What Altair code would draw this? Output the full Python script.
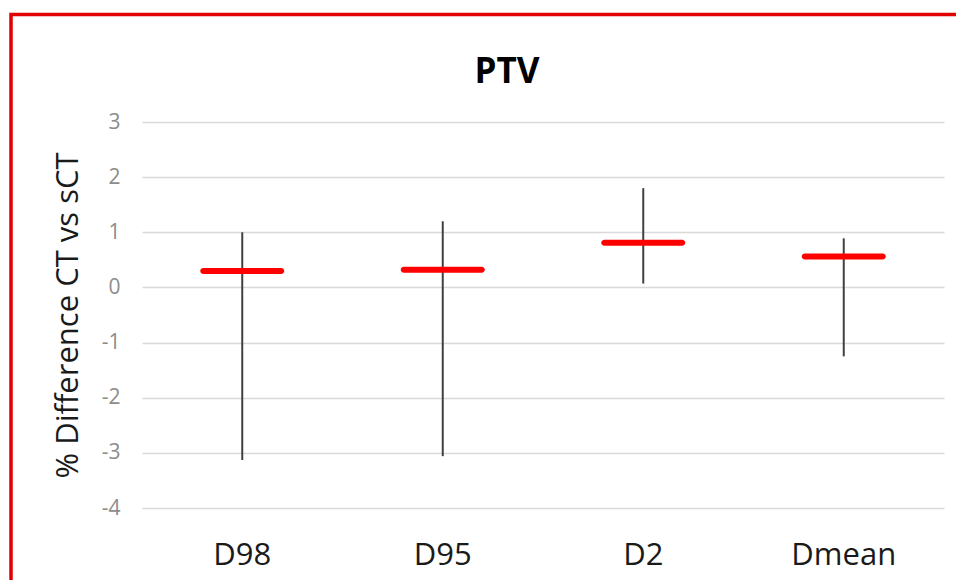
import altair as alt
import pandas as pd

categories = ["D98", "D95", "D2", "Dmean"]
mean_vals = [0.30, 0.32, 0.81, 0.56]
min_vals = [-3.13, -3.06, 0.07, -1.25]
max_vals = [1.00, 1.20, 1.80, 0.89]
y_ticks = [-4, -3, -2, -1, 0, 1, 2, 3]
chart_title = "PTV"

df = pd.DataFrame({"cat": categories, "mean": mean_vals, "lo": min_vals, "hi": max_vals})

FONT = "Open Sans"

x_enc = alt.X("cat:N", sort=categories, title=None,
              scale=alt.Scale(paddingInner=0, paddingOuter=0),
              axis=alt.Axis(labelAngle=0, labelFontSize=31, labelColor="#1a1a1a", labelFont=FONT,
                            ticks=False, domain=False, grid=False, labelPadding=32))
y_scale = alt.Scale(domain=[-4, 3], nice=False, zero=False)
y_axis = alt.Axis(values=y_ticks, grid=True, gridColor="#d9d9d9", gridWidth=1.5,
                  domain=False, ticks=False, labelPadding=22, labelFontSize=21,
                  labelColor="#8c8c8c", labelFont=FONT, labelExpr="'' + datum.value",
                  title="% Difference CT vs sCT", titleFontSize=31, titleFontWeight="normal",
                  titleColor="#1a1a1a", titleFont=FONT, titleAngle=270, titleX=-74, titleY=193,
                  titleAlign="center", titleBaseline="middle")

base = alt.Chart(df)

ranges = base.mark_rule(color="#404040", strokeWidth=2).encode(
    x=x_enc,
    y=alt.Y("lo:Q", scale=y_scale, axis=y_axis),
    y2="hi:Q",
)

means = base.mark_tick(color="#ff0000", size=84, thickness=6, cornerRadius=3, opacity=1).encode(
    x=alt.X("cat:N", sort=categories),
    y=alt.Y("mean:Q"),
)

deco = alt.Chart(alt.Data(values=[{"t": chart_title}]))

frame = deco.mark_rect(fill=None, stroke="#e00000", strokeWidth=3.5).encode(
    x=alt.value(-131), y=alt.value(-107.5), x2=alt.value(900), y2=alt.value(600)
)

title_text = deco.mark_text(fontSize=35, fontWeight="bold", font=FONT, color="#000000",
                            align="center", baseline="alphabetic").encode(
    x=alt.value(365), y=alt.value(-39), text="t:N"
)

chart = alt.layer(frame, ranges, means, title_text).properties(
    width=802, height=386,
    background="white",
    autosize=alt.AutoSizeParams(type="none"),
    padding={"left": 134, "top": 114, "right": 12, "bottom": 72},
).configure_view(strokeWidth=0, stroke="transparent")

chart.save("out.html", embed_options={"renderer": "svg", "actions": False})
